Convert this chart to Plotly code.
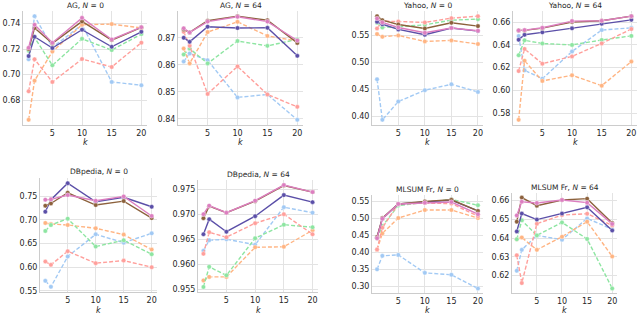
import plotly.graph_objects as go

k = [1, 2, 5, 10, 15, 20]

series_names = ["Method A", "Method B", "Method C", "Baseline 1", "Baseline 2", "Baseline 3", "Baseline 4"]
series_colors = ["#5b4fa8", "#8c613c", "#dc7ec0", "#a1c9f4", "#ffb482", "#8de5a1", "#ff9f9b"]
series_dash = ["solid", "solid", "solid", "4px,2px", "4px,2px", "4px,2px", "4px,2px"]

# order: purple, brown, pink, blue, orange, green, red
ag_0 = [
    [0.7145, 0.7296, 0.7208, 0.7351, 0.7218, 0.7335],
    [0.7200, 0.7364, 0.7244, 0.7416, 0.7270, 0.7369],
    [0.7210, 0.7390, 0.7250, 0.7444, 0.7275, 0.7371],
    [0.7120, 0.7457, 0.7213, 0.7390, 0.6943, 0.6917],
    [0.6647, 0.6953, 0.7180, 0.7390, 0.7395, 0.7365],
    [0.7187, 0.7290, 0.7073, 0.7280, 0.7192, 0.7317],
    [0.6870, 0.7120, 0.6943, 0.7122, 0.7060, 0.7250],
]
ag_64 = [
    [0.8700, 0.8685, 0.8741, 0.8736, 0.8737, 0.8633],
    [0.8731, 0.8720, 0.8763, 0.8780, 0.8765, 0.8681],
    [0.8735, 0.8720, 0.8760, 0.8778, 0.8760, 0.8690],
    [0.8612, 0.8642, 0.8617, 0.8479, 0.8490, 0.8396],
    [0.8660, 0.8605, 0.8721, 0.8759, 0.8707, 0.8688],
    [0.8638, 0.8660, 0.8605, 0.8688, 0.8670, 0.8694],
    [0.8722, 0.8670, 0.8492, 0.8594, 0.8490, 0.8444],
]
yahoo_0 = [
    [0.5746, 0.5700, 0.5605, 0.5506, 0.5630, 0.5574],
    [0.5850, 0.5777, 0.5697, 0.5623, 0.5728, 0.5666],
    [0.5807, 0.5734, 0.5641, 0.5543, 0.5630, 0.5580],
    [0.4682, 0.3932, 0.4270, 0.4480, 0.4590, 0.4448],
    [0.5518, 0.5469, 0.5494, 0.5383, 0.5402, 0.5334],
    [0.5727, 0.5641, 0.5654, 0.5690, 0.5777, 0.5795],
    [0.5623, 0.5758, 0.5752, 0.5734, 0.5814, 0.5850],
]
yahoo_64 = [
    [0.6445, 0.6489, 0.6510, 0.6545, 0.6586, 0.6620],
    [0.6527, 0.6527, 0.6547, 0.6600, 0.6612, 0.6652],
    [0.6527, 0.6530, 0.6550, 0.6609, 0.6612, 0.6652],
    [0.6477, 0.6177, 0.6103, 0.6342, 0.6530, 0.6550],
    [0.5742, 0.6261, 0.6083, 0.6133, 0.6042, 0.6253],
    [0.6309, 0.6440, 0.6412, 0.6400, 0.6443, 0.6479],
    [0.6170, 0.6364, 0.6235, 0.6299, 0.6413, 0.6539],
]
dbpedia_0 = [
    [0.7176, 0.7430, 0.7780, 0.7387, 0.7480, 0.7280],
    [0.7303, 0.7350, 0.7577, 0.7317, 0.7400, 0.7040],
    [0.7430, 0.7437, 0.7528, 0.7408, 0.7500, 0.7085],
    [0.5710, 0.5584, 0.6225, 0.6697, 0.6520, 0.6718],
    [0.6937, 0.6915, 0.6894, 0.6824, 0.6690, 0.6373],
    [0.6768, 0.6894, 0.7028, 0.6437, 0.6570, 0.6275],
    [0.6120, 0.6050, 0.6338, 0.6085, 0.6140, 0.6000],
]
dbpedia_64 = [
    [0.9660, 0.9690, 0.9665, 0.9696, 0.9738, 0.9724],
    [0.9692, 0.9716, 0.9703, 0.9726, 0.9757, 0.9744],
    [0.9700, 0.9717, 0.9703, 0.9727, 0.9758, 0.9744],
    [0.9627, 0.9648, 0.9650, 0.9639, 0.9714, 0.9703],
    [0.9568, 0.9575, 0.9575, 0.9634, 0.9635, 0.9668],
    [0.9555, 0.9595, 0.9578, 0.9652, 0.9679, 0.9674],
    [0.9621, 0.9664, 0.9654, 0.9682, 0.9700, 0.9660],
]
mlsum_0 = [
    [0.4434, 0.4980, 0.5415, 0.5470, 0.5528, 0.5208],
    [0.4440, 0.5000, 0.5415, 0.5490, 0.5538, 0.5208],
    [0.4406, 0.4980, 0.5415, 0.5453, 0.5472, 0.5113],
    [0.3490, 0.3887, 0.3915, 0.3387, 0.3330, 0.2925],
    [0.4066, 0.4547, 0.5000, 0.5236, 0.5236, 0.5000],
    [0.4406, 0.4764, 0.5368, 0.5453, 0.5547, 0.5377],
    [0.4075, 0.4717, 0.5415, 0.5440, 0.5425, 0.5057],
]
mlsum_64 = [
    [0.6435, 0.6530, 0.6498, 0.6530, 0.6563, 0.6440],
    [0.6487, 0.6615, 0.6572, 0.6602, 0.6609, 0.6480],
    [0.6520, 0.6593, 0.6586, 0.6602, 0.6588, 0.6475],
    [0.6226, 0.6337, 0.6414, 0.6391, 0.6504, 0.6447],
    [0.6393, 0.6403, 0.6337, 0.6407, 0.6487, 0.6302],
    [0.6393, 0.6494, 0.6414, 0.6483, 0.6395, 0.6132],
    [0.6308, 0.6161, 0.6476, 0.6522, 0.6529, 0.6467],
]

panel_titles = ["AG, <i>N</i> = 0", "AG, <i>N</i> = 64", "Yahoo, <i>N</i> = 0", "Yahoo, <i>N</i> = 64",
                "DBpedia, <i>N</i> = 0", "DBpedia, <i>N</i> = 64", "MLSUM Fr, <i>N</i> = 0", "MLSUM Fr, <i>N</i> = 64"]
panel_data = [ag_0, ag_64, yahoo_0, yahoo_64, dbpedia_0, dbpedia_64, mlsum_0, mlsum_64]
panel_yticks = [
    [0.68, 0.70, 0.72, 0.74],
    [0.84, 0.85, 0.86, 0.87],
    [0.40, 0.45, 0.50, 0.55],
    [0.58, 0.60, 0.62, 0.64, 0.66],
    [0.55, 0.60, 0.65, 0.70, 0.75],
    [0.955, 0.960, 0.965, 0.970, 0.975],
    [0.30, 0.35, 0.40, 0.45, 0.50, 0.55],
    [0.62, 0.63, 0.64, 0.65, 0.66],
]
panel_yfmt = [".2f", ".2f", ".2f", ".2f", ".2f", ".3f", ".2f", ".2f"]
x_ticks = [5, 10, 15, 20]

W, H = 640, 315
# pixel boxes: left, right, top, bottom
boxes = [
    (23, 147, 11, 125), (178, 303, 11, 125), (372, 483, 11, 125), (513, 637, 11, 125),
    (40, 157, 178, 292), (198, 318, 180, 292), (372, 483, 195, 293), (512, 617, 193, 293),
]

fig = go.Figure()
FONT = "DejaVu Sans"
TXT = "#262626"
GRID = "#e3e3e3"
SPINE = "#cccccc"

for i, (data, title, yt, fmt, box) in enumerate(zip(panel_data, panel_titles, panel_yticks, panel_yfmt, boxes)):
    n = i + 1
    xa = "x" if n == 1 else f"x{n}"
    ya = "y" if n == 1 else f"y{n}"
    order = [3, 4, 5, 6, 0, 1, 2]
    for s in order:
        fig.add_trace(go.Scatter(
            x=k, y=data[s], mode="lines+markers", name=series_names[s], showlegend=False,
            line=dict(color=series_colors[s], width=1.4, dash=series_dash[s]),
            marker=dict(color=series_colors[s], size=4.5, line=dict(color="white", width=0.4)),
            xaxis=xa, yaxis=ya, cliponaxis=False,
        ))
    allv = [v for row in data for v in row]
    lo, hi = min(allv), max(allv)
    pad = 0.05 * (hi - lo)
    l, r, t, b = box
    xkey = "xaxis" if n == 1 else f"xaxis{n}"
    ykey = "yaxis" if n == 1 else f"yaxis{n}"
    fig.update_layout(**{
        xkey: dict(domain=[l / W, r / W], anchor=ya, range=[0.05, 20.95], tickvals=x_ticks,
                   automargin=False,
                   showgrid=True, gridcolor=GRID, gridwidth=1, zeroline=False,
                   showline=True, linecolor=SPINE, linewidth=1, ticks="", ticklen=0,
                   tickfont=dict(family=FONT, size=8, color=TXT)),
        ykey: dict(domain=[1 - b / H, 1 - t / H], anchor=xa, range=[lo - pad, hi + pad], tickvals=yt,
                   automargin=False,
                   tickformat=fmt, showgrid=True, gridcolor=GRID, gridwidth=1, zeroline=False,
                   showline=True, linecolor=SPINE, linewidth=1, ticks="", ticklen=0,
                   tickfont=dict(family=FONT, size=8, color=TXT)),
    })
    ty = max(t - 6, 5.5)
    fig.add_annotation(x=(l + r) / 2 / W, y=1 - ty / H, xref="paper", yref="paper",
                       text=title, showarrow=False, xanchor="center", yanchor="middle",
                       font=dict(family=FONT, size=7.5, color=TXT))
    ky = min(b + 18, 310)
    fig.add_annotation(x=(l + r) / 2 / W, y=1 - ky / H, xref="paper", yref="paper",
                       text="<i>k</i>", showarrow=False, xanchor="center", yanchor="middle",
                       font=dict(family=FONT, size=8, color=TXT))

fig.update_layout(width=W, height=H, margin=dict(l=0, r=0, t=0, b=0),
                  paper_bgcolor="white", plot_bgcolor="white")
fig.write_html("out.html", config={"displayModeBar": False},
               post_script="document.body.style.margin='0';document.body.style.overflow='hidden';")
